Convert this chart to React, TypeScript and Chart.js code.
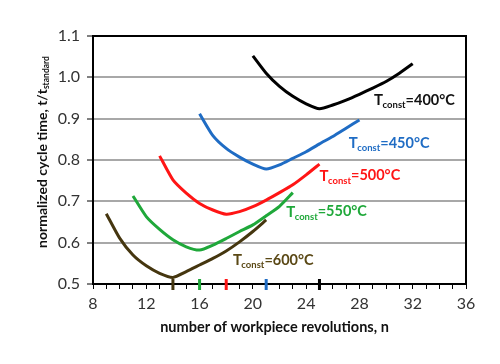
import React, { useEffect, useRef } from "react";
import { Chart, registerables } from "chart.js";
Chart.register(...registerables);

const n400 = [20, 21, 22, 23, 24, 25, 26, 27, 28, 29, 30, 31, 32];
const v400 = [1.052, 1.01, 0.978, 0.954, 0.936, 0.924, 0.933, 0.945, 0.959, 0.974, 0.99, 1.01, 1.033];
const n450 = [16, 17, 18, 19, 20, 21, 22, 23, 24, 25, 26, 27, 28];
const v450 = [0.912, 0.859, 0.828, 0.807, 0.79, 0.778, 0.788, 0.804, 0.82, 0.839, 0.857, 0.877, 0.897];
const n500 = [13, 14, 15, 16, 17, 18, 19, 20, 21, 22, 23, 24, 25];
const v500 = [0.81, 0.752, 0.72, 0.695, 0.679, 0.669, 0.675, 0.687, 0.703, 0.721, 0.74, 0.764, 0.79];
const n550 = [11, 12, 13, 14, 15, 16, 17, 18, 19, 20, 21, 22, 23];
const v550 = [0.713, 0.663, 0.632, 0.607, 0.59, 0.582, 0.594, 0.61, 0.627, 0.643, 0.665, 0.688, 0.721];
const n600 = [9, 10, 11, 12, 13, 14, 15, 16, 17, 18, 19, 20, 21];
const v600 = [0.67, 0.611, 0.57, 0.544, 0.526, 0.516, 0.53, 0.546, 0.562, 0.58, 0.602, 0.627, 0.655];

const temps = ["400", "450", "500", "550", "600"];
const lineColors = ["#000000", "#1f6cc4", "#ff1515", "#1fa83a", "#45360f"];
const labelColors = ["#111111", "#1f6cc4", "#ff1515", "#1fa83a", "#5a4815"];
const labelN = [29.1, 27.2, 25.0, 22.5, 18.5];
const labelV = [0.945, 0.841, 0.762, 0.675, 0.558];

const xTitle = "number of workpiece revolutions, n";
const yTitleMain = "normalized cycle time, t/t";
const yTitleSub = "standard";

const FONT = "Lato, 'Open Sans', sans-serif";

function zip(ns: number[], vs: number[]) {
  return ns.map((n, i) => ({ x: n, y: vs[i] }));
}

const overlay = {
  id: "overlay",
  afterDatasetsDraw(chart: any) {
    const { ctx, chartArea, scales } = chart;
    const xs = scales.x;
    const ys = scales.y;
    ctx.save();
    ctx.strokeStyle = "#000";
    ctx.lineWidth = 2;
    ctx.strokeRect(chartArea.left, chartArea.top, chartArea.right - chartArea.left, chartArea.bottom - chartArea.top);
    chart.data.datasets.forEach((ds: any, i: number) => {
      let best = ds.data[0];
      ds.data.forEach((p: any) => { if (p.y < best.y) best = p; });
      const px = xs.getPixelForValue(best.x);
      ctx.strokeStyle = lineColors[i];
      ctx.lineWidth = 3;
      ctx.beginPath();
      ctx.moveTo(px, chartArea.bottom - 5);
      ctx.lineTo(px, chartArea.bottom + 6);
      ctx.stroke();
    });
    ctx.textBaseline = "middle";
    ctx.textAlign = "left";
    temps.forEach((t, i) => {
      let x = xs.getPixelForValue(labelN[i]);
      const y = ys.getPixelForValue(labelV[i]);
      ctx.fillStyle = labelColors[i];
      ctx.font = `bold 15px ${FONT}`;
      ctx.fillText("T", x, y);
      x += ctx.measureText("T").width - 0.5;
      ctx.font = `bold 9.5px ${FONT}`;
      ctx.fillText("const", x, y + 5);
      x += ctx.measureText("const").width;
      ctx.font = `bold 14.5px ${FONT}`;
      ctx.fillText(`=${t}°C`, x, y);
    });
    ctx.restore();
  },
  afterDraw(chart: any) {
    const { ctx, chartArea } = chart;
    ctx.save();
    ctx.fillStyle = "#111";
    ctx.font = `bold 14.5px ${FONT}`;
    ctx.textAlign = "center";
    ctx.textBaseline = "middle";
    ctx.fillText(xTitle, (chartArea.left + chartArea.right) / 2 - 5, 327);
    ctx.translate(42, 152);
    ctx.rotate(-Math.PI / 2);
    ctx.font = `bold 14px ${FONT}`;
    const w1 = ctx.measureText(yTitleMain).width;
    ctx.font = `bold 8.5px ${FONT}`;
    const w2 = ctx.measureText(yTitleSub).width;
    const start = -(w1 + w2) / 2;
    ctx.textAlign = "left";
    ctx.font = `bold 14px ${FONT}`;
    ctx.fillText(yTitleMain, start, 0);
    ctx.font = `bold 8.5px ${FONT}`;
    ctx.fillText(yTitleSub, start + w1, 4);
    ctx.restore();
  },
};

export default function App() {
  const ref = useRef<HTMLCanvasElement>(null);
  useEffect(() => {
    document.body.style.margin = "0";
    const series = [zip(n400, v400), zip(n450, v450), zip(n500, v500), zip(n550, v550), zip(n600, v600)];
    const chart = new Chart(ref.current as HTMLCanvasElement, {
      type: "line",
      data: {
        datasets: series.map((d, i) => ({
          label: temps[i],
          data: d,
          borderColor: lineColors[i],
          borderWidth: 3,
          pointRadius: 0,
          tension: 0.2,
          fill: false,
        })),
      },
      options: {
        animation: false,
        responsive: false,
        layout: { padding: { left: 0, top: 36, right: 34, bottom: 0 } },
        plugins: { legend: { display: false }, tooltip: { enabled: false } },
        scales: {
          x: {
            type: "linear",
            min: 8,
            max: 36,
            afterFit: (s: any) => { s.height = 80; },
            grid: { drawOnChartArea: false, tickLength: 5, tickColor: "#000", tickWidth: 1 },
            border: { display: false },
            ticks: {
              stepSize: 1,
              autoSkip: false,
              maxRotation: 0,
              padding: 5,
              color: "#333",
              font: { family: FONT, size: 16 },
              callback: (v: any) => ((Number(v) - 8) % 4 === 0 ? String(v) : ""),
            },
          },
          y: {
            min: 0.5,
            max: 1.1,
            afterFit: (s: any) => { s.width = 93; },
            grid: { color: "#a8a8a8", lineWidth: 2, tickLength: 6, tickColor: "#000", tickWidth: 1 },
            border: { display: false },
            ticks: {
              stepSize: 0.1,
              padding: 7,
              color: "#333",
              font: { family: FONT, size: 16 },
              callback: (v: any) => Number(v).toFixed(1),
            },
          },
        },
      },
      plugins: [overlay],
    });
    return () => chart.destroy();
  }, []);
  return <canvas ref={ref} width={500} height={364} style={{ display: "block" }} />;
}
